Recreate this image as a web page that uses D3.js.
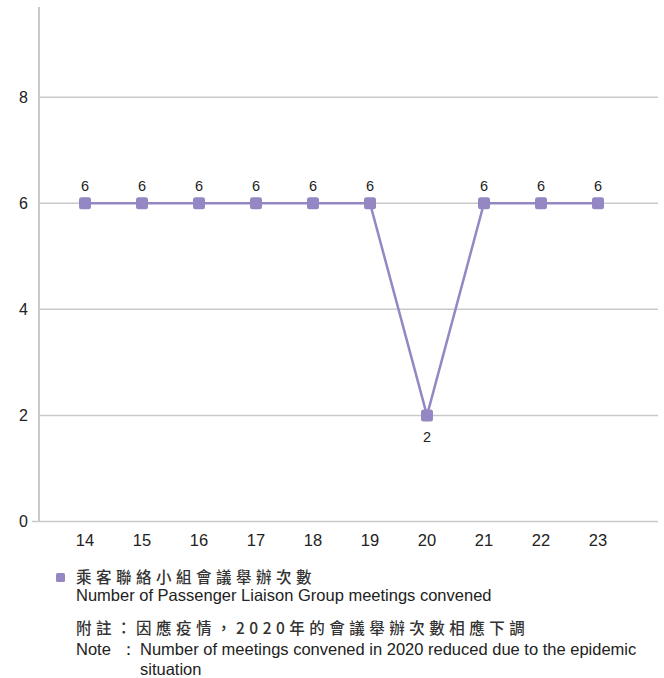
<!DOCTYPE html>
<html>
<head>
<meta charset="utf-8">
<script src="https://cdn.jsdelivr.net/npm/d3@7"></script>
<style>
    body { margin: 0; background: #fff; }
    text { font-family: "Liberation Sans", Arial, sans-serif; fill: #222; }
    .cjk { font-family: "Noto Sans CJK TC", "Noto Sans CJK SC", sans-serif; fill: #333; font-weight: 500; letter-spacing: 4.5px; }
</style>
</head>
<body>
<div id="chart"></div>
<script>
// Data
const years = ['14', '15', '16', '17', '18', '19', '20', '21', '22', '23'];
const meetings = [6, 6, 6, 6, 6, 6, 2, 6, 6, 6];
const yTicks = [0, 2, 4, 6, 8];

const legendZh = '乘客聯絡小組會議舉辦次數';
const legendEn = 'Number of Passenger Liaison Group meetings convened';
const noteZh = '附註：因應疫情，2020年的會議舉辦次數相應下調';
const noteLabel = 'Note';
const noteEn = ['Number of meetings convened in 2020 reduced due to the epidemic', 'situation'];

const color = '#9487c4';
const gridColor = '#c9c9c9';

const width = 664, height = 678;
const plot = {left: 39, right: 658, top: 7, bottom: 521.5};

const svg = d3.select('#chart').append('svg')
    .attr('width', width)
    .attr('height', height);

let x = d3.scalePoint()
    .domain(years)
    .range([85, 598]);

let y = d3.scaleLinear()
    .domain([0, 9.7])
    .range([plot.bottom, plot.top]);

// Gridlines
svg.append('g')
    .selectAll('line')
    .data(yTicks)
    .enter().append('line')
    .attr('x1', d => d === 0 ? plot.left - 7 : plot.left)
    .attr('x2', plot.right)
    .attr('y1', d => y(d))
    .attr('y2', d => y(d))
    .attr('stroke', gridColor)
    .attr('stroke-width', 1.5);

// Y axis line
svg.append('line')
    .attr('x1', plot.left).attr('x2', plot.left)
    .attr('y1', plot.top).attr('y2', plot.bottom)
    .attr('stroke', gridColor)
    .attr('stroke-width', 2);

// Y tick labels
svg.append('g')
    .selectAll('text')
    .data(yTicks)
    .enter().append('text')
    .attr('x', 28)
    .attr('y', d => y(d))
    .attr('dy', '0.36em')
    .attr('text-anchor', 'end')
    .attr('font-size', 16)
    .text(d => d);

// X tick labels
svg.append('g')
    .selectAll('text')
    .data(years)
    .enter().append('text')
    .attr('x', d => x(d))
    .attr('y', 546)
    .attr('text-anchor', 'middle')
    .attr('font-size', 16.5)
    .text(d => d);

// Line
let line = d3.line()
    .x((d, i) => x(years[i]))
    .y(d => y(d));

svg.append('path')
    .datum(meetings)
    .attr('fill', 'none')
    .attr('stroke', color)
    .attr('stroke-width', 2.5)
    .attr('d', line);

// Markers
svg.append('g')
    .selectAll('rect')
    .data(meetings)
    .enter().append('rect')
    .attr('x', (d, i) => x(years[i]) - 6)
    .attr('y', d => y(d) - 6)
    .attr('width', 12)
    .attr('height', 12)
    .attr('rx', 2.5)
    .attr('fill', color);

// Value labels
svg.append('g')
    .selectAll('text')
    .data(meetings)
    .enter().append('text')
    .attr('x', (d, i) => x(years[i]))
    .attr('y', d => d < 4 ? y(d) + 27 : y(d) - 12)
    .attr('text-anchor', 'middle')
    .attr('font-size', 14.5)
    .text(d => d);

// Legend
svg.append('rect')
    .attr('x', 56).attr('y', 573)
    .attr('width', 9).attr('height', 9)
    .attr('rx', 1.5)
    .attr('fill', color);

svg.append('text')
    .attr('class', 'cjk')
    .attr('x', 76).attr('y', 583)
    .attr('font-size', 15.5)
    .text(legendZh);

svg.append('text')
    .attr('x', 76).attr('y', 601)
    .attr('font-size', 16.5)
    .text(legendEn);

// Note
svg.append('text')
    .attr('class', 'cjk')
    .attr('x', 76).attr('y', 634)
    .attr('font-size', 15.5)
    .text(noteZh);

svg.append('text')
    .attr('x', 76).attr('y', 655)
    .attr('font-size', 16.5)
    .text(noteLabel);

svg.append('text')
    .attr('x', 120).attr('y', 655)
    .attr('font-size', 16.5)
    .text('：');

svg.append('g')
    .selectAll('text')
    .data(noteEn)
    .enter().append('text')
    .attr('x', 140)
    .attr('y', (d, i) => 655 + i * 19.5)
    .attr('font-size', 16.5)
    .text(d => d);
</script>
</body>
</html>
